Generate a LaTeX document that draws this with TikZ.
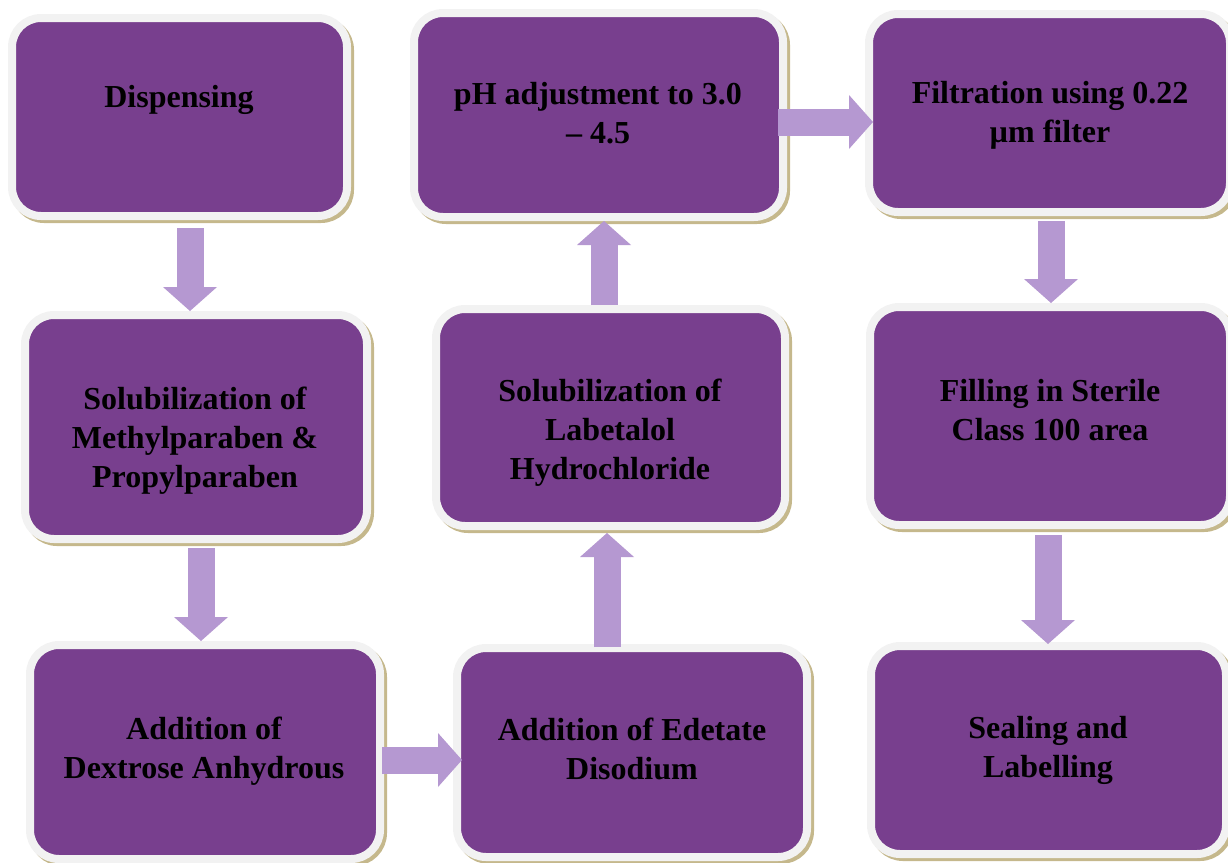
\documentclass[tikz,border=0pt]{standalone}
\usepackage{fontspec}
\setmainfont{Liberation Serif}
\usetikzlibrary{arrows.meta}
\definecolor{stepPurple}{HTML}{783F8E}
\definecolor{stepBorder}{HTML}{F2F2F2}
\definecolor{stepShadow}{HTML}{C5B88C}
\definecolor{flowLilac}{HTML}{B598D1}
\tikzset{
  stepbox/.style 2 args={draw=stepBorder, fill=stepPurple, line width=8pt,
    rounded corners=29pt, minimum width=#1, minimum height=#2, inner sep=0pt,
    preaction={draw=stepShadow, line width=8pt,
      transform canvas={shift={(3pt,-3pt)}}}},
  steptext/.style={font=\fontsize{32}{39}\selectfont\bfseries, text=black,
    align=center, inner sep=0pt},
  flow/.style={-{Triangle[length=24pt,width=54pt,line width=0pt]}, line width=27pt,
    draw=flowLilac}
}
\begin{document}
\begin{tikzpicture}[x=1pt,y=-1pt]
  % y runs down the page, so the numbers read like pixel rows
  \useasboundingbox (0,0) rectangle (1228,862);
  % left column
  \node[stepbox={335pt}{198pt}] (dispensing) at (179.5,117) {};
  \node[stepbox={342pt}{224pt}] (parabens) at (196,427) {};
  \node[stepbox={350pt}{214pt}] (dextrose) at (205,752) {};
  % middle column
  \node[stepbox={350pt}{209pt}] (edetate) at (632,752.5) {};
  \node[stepbox={349pt}{217pt}] (labetalol) at (610.5,417.5) {};
  \node[stepbox={369pt}{204pt}] (phadjust) at (598.5,115) {};
  % right column
  \node[stepbox={361pt}{198pt}] (filtration) at (1049.5,113) {};
  \node[stepbox={360pt}{218pt}] (filling) at (1050,416) {};
  \node[stepbox={355pt}{208pt}] (sealing) at (1048.5,750) {};
  \node[steptext] (dispensingT) at (179,100) {Dispensing};
  \node[steptext] (parabensT) at (195,441) {Solubilization of\\Methylparaben \&\\Propylparaben};
  \node[steptext] (dextroseT) at (204,751) {Addition of\\Dextrose Anhydrous};
  \node[steptext] (edetateT) at (632,749) {Addition of Edetate\\Disodium};
  \node[steptext] (labetalolT) at (610,433) {Solubilization of\\Labetalol\\Hydrochloride};
  \node[steptext] (phadjustT) at (598,113) {pH adjustment to 3.0\\– 4.5};
  \node[steptext] (filtrationT) at (1050,115) {Filtration using 0.22\\µm filter};
  \node[steptext] (fillingT) at (1050,410) {Filling in Sterile\\Class 100 area};
  \node[steptext] (sealingT) at (1048,750) {Sealing and\\Labelling};
  % block arrows between the steps
  \draw[flow, shorten <=8pt] ([xshift=10.5pt]dispensing.south) -- ([xshift=-6pt]parabens.north);
  \draw[flow, shorten <=5pt] ([xshift=5pt]parabens.south) -- ([xshift=-4pt]dextrose.north);
  \draw[flow, shorten <=-2pt, shorten >=-9pt] ([yshift=-8pt]dextrose.east) -- ([yshift=-7.5pt]edetate.west);
  \draw[flow, shorten <=-3pt, shorten >=3pt] ([xshift=-25pt]edetate.north) -- ([xshift=-3.5pt]labetalol.south);
  \draw[flow] ([xshift=-6.5pt]labetalol.north) -- ([xshift=5.5pt]phadjust.south);
  \draw[flow, shorten <=-9pt, shorten >=-8pt] ([yshift=-7pt]phadjust.east) -- ([yshift=-9pt]filtration.west);
  \draw[flow, shorten <=5pt] ([xshift=1.5pt]filtration.south) -- ([xshift=1pt]filling.north);
  \draw[flow, shorten <=6pt, shorten >=-2pt] ([xshift=-2pt]filling.south) -- ([xshift=-0.5pt]sealing.north);
\end{tikzpicture}
\end{document}
